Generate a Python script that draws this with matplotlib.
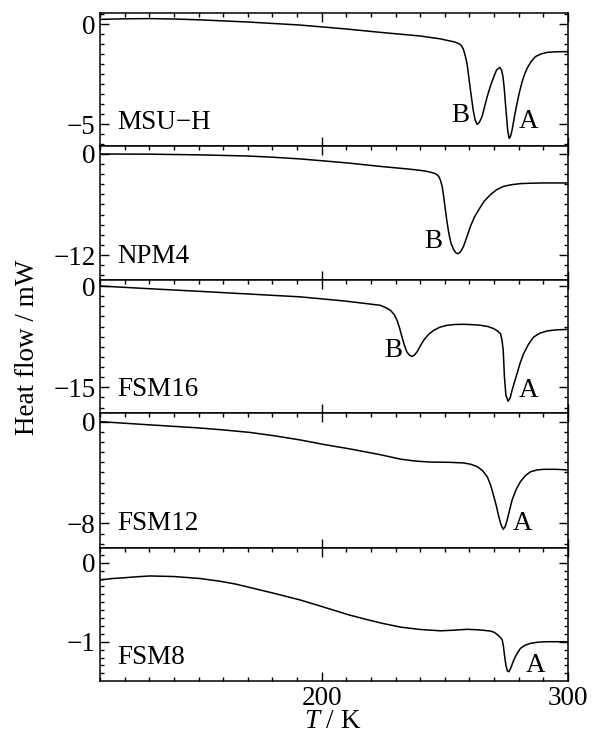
import numpy as np
import matplotlib
matplotlib.use("Agg")
import matplotlib.pyplot as plt
from matplotlib.ticker import MultipleLocator

plt.rcParams['font.family'] = ['Liberation Serif', 'DejaVu Serif']
plt.rcParams['mathtext.fontset'] = 'custom'
plt.rcParams['mathtext.it'] = 'Liberation Serif:italic'
plt.rcParams['mathtext.rm'] = 'Liberation Serif'

# ---------------- data ----------------
samples = ["MSU\u2212H", "NPM4", "FSM16", "FSM12", "FSM8"]

t_msuh = [110, 120, 130, 140, 150, 170, 191, 210, 224, 240, 248, 254, 255.5, 256.5,
          257.5, 258.3, 259, 260.4, 261.5, 262.3, 263.1, 264, 265.1, 266, 267.2,
          268.5, 269.9, 271, 272.3, 273, 273.6, 274.1, 274.6, 275.1, 275.5, 276.1,
          276.7, 277.3, 278.3, 279.3, 280.3, 281.4, 282.4, 283.4, 285, 286.8, 289,
          291.5, 295, 300]
hf_msuh = [0.23, 0.26, 0.27, 0.25, 0.21, 0.10, -0.05, -0.25, -0.42, -0.60, -0.74,
           -0.90, -0.97, -1.05, -1.25, -1.6, -1.97, -3.3, -4.3, -4.8, -5.02, -4.92,
           -4.63, -4.2, -3.63, -3.1, -2.63, -2.3, -2.17, -2.3, -2.63, -3.2, -3.97,
           -4.7, -5.3, -5.72, -5.6, -5.3, -4.6, -3.97, -3.4, -2.88, -2.5, -2.22,
           -1.88, -1.63, -1.5, -1.42, -1.39, -1.38]

t_npm4 = [110, 130, 150, 170, 180, 191, 200, 210, 224, 235, 240, 243, 245.5, 246.5,
          247.5, 248.2, 248.9, 249.5, 250.2, 250.9, 251.6, 252.5, 253.6, 254.5,
          255.4, 256.4, 257.6, 259, 260.4, 262, 263.8, 266, 268.5, 271, 273.9, 277,
          280.7, 285, 290.2, 300]
hf_npm4 = [0.0, -0.02, -0.10, -0.24, -0.38, -0.58, -0.80, -1.05, -1.48, -1.78,
           -1.94, -2.08, -2.26, -2.4, -2.65, -3.1, -3.84, -5.0, -6.6, -8.1, -9.4,
           -10.6, -11.37, -11.75, -11.85, -11.6, -10.97, -9.8, -8.6, -7.5, -6.6,
           -5.6, -4.83, -4.25, -3.84, -3.65, -3.52, -3.47, -3.44, -3.44]

t_fsm16 = [110, 130, 150, 170, 191, 200, 210, 218, 223.8, 226, 227.9, 229.4, 230.6,
           231.6, 232.6, 233.6, 234.6, 235.6, 236.7, 237.7, 238.7, 240, 241.4, 243.3,
           245.5, 248, 250.9, 254, 257.6, 261, 264.5, 267.5, 269.9, 271.5, 272.6,
           273.2, 273.7, 274.2, 274.8, 275.7, 276.5, 277.3, 278.3, 279.3, 280.6,
           282, 284, 286.1, 288.5, 291.5, 295, 300]
hf_fsm16 = [0.0, -0.40, -0.78, -1.18, -1.60, -1.90, -2.25, -2.6, -2.86, -3.2, -3.6,
            -4.2, -5.08, -6.2, -7.55, -8.8, -9.77, -10.25, -10.42, -10.2, -9.77,
            -8.9, -8.05, -7.2, -6.56, -6.1, -5.82, -5.7, -5.67, -5.72, -5.82, -6.0,
            -6.32, -6.7, -7.06, -8.0, -9.52, -13.5, -16.2, -17.07, -16.6, -15.44,
            -14.2, -12.98, -11.4, -10.0, -8.6, -7.55, -7.0, -6.66, -6.5, -6.42]

t_fsm12 = [110, 130, 150.6, 160, 171, 181, 191.3, 201, 211.6, 223.8, 232, 238, 244,
           252, 257.6, 260.5, 263.1, 265.3, 267.2, 268.6, 269.9, 271, 271.9, 272.8,
           273.7, 274.5, 275.3, 276.3, 277.3, 278.9, 280.7, 282.7, 284.8, 287.5,
           290.2, 295, 300]
hf_fsm12 = [0.0, -0.25, -0.50, -0.65, -0.85, -1.12, -1.44, -1.8, -2.15, -2.6, -2.95,
            -3.1, -3.18, -3.2, -3.25, -3.35, -3.54, -3.85, -4.33, -5.0, -5.9, -6.7,
            -7.48, -8.1, -8.47, -8.25, -7.74, -6.95, -6.17, -5.35, -4.72, -4.25,
            -3.94, -3.8, -3.75, -3.75, -3.8]

t_fsm8 = [110, 115, 120, 125, 130.3, 140, 150.6, 158.8, 165, 171, 181, 191.3, 198,
          204.8, 211, 218.4, 225, 232, 240, 248.2, 253, 259, 264, 268.5, 270, 271.2,
          272.4, 273.3, 273.8, 274.2, 274.8, 275.4, 276, 276.8, 278, 279.3, 280.7,
          282.5, 284.8, 288, 291.5, 300]
hf_fsm8 = [-0.219, -0.20, -0.19, -0.178, -0.168, -0.175, -0.20, -0.235, -0.27,
           -0.315, -0.39, -0.472, -0.535, -0.60, -0.66, -0.72, -0.77, -0.815, -0.845,
           -0.862, -0.855, -0.843, -0.85, -0.865, -0.88, -0.907, -0.94, -0.978,
           -1.06, -1.168, -1.30, -1.37, -1.38, -1.33, -1.23, -1.15, -1.084, -1.045,
           -1.02, -1.005, -1.0, -1.0]

series_t = [t_msuh, t_npm4, t_fsm16, t_fsm12, t_fsm8]
series_hf = [hf_msuh, hf_npm4, hf_fsm16, hf_fsm12, hf_fsm8]
y_major = [5, 12, 15, 8, 1]
y_limits = [(-6.1, 0.55), (-14.97, 0.95), (-18.81, 0.89), (-9.94, 0.68), (-1.497, 0.186)]
peak_labels = [[("B", 256.3, -4.88), ("A", 283.8, -5.22)],
               [("B", 245.5, -11.17)],
               [("B", 229.2, -10.51), ("A", 284.1, -16.44)],
               [("A", 281.7, -8.52)],
               [("A", 286.7, -1.38)]]

# ---------------- figure ----------------
W, H = 600, 735
fig = plt.figure(figsize=(W / 100, H / 100), dpi=100)
edges = [13, 146, 280, 413, 548, 681]
left_px, right_px = 100, 568
fs = 19.5

for i in range(5):
    top, bot = edges[i], edges[i + 1]
    ax = fig.add_axes([left_px / W, 1 - bot / H, (right_px - left_px) / W, (bot - top) / H])
    ax.plot(series_t[i], series_hf[i], color='black', lw=1.1)
    ax.set_xlim(110, 300)
    ax.set_ylim(*y_limits[i])
    ax.xaxis.set_major_locator(MultipleLocator(100))
    ax.xaxis.set_minor_locator(MultipleLocator(10))
    ax.yaxis.set_major_locator(MultipleLocator(y_major[i]))
    ax.yaxis.set_minor_locator(MultipleLocator(y_major[i] / 10))
    ax.tick_params(which='both', direction='in', top=True, right=True,
                   bottom=True, left=True, width=1.0, labelsize=fs)
    ax.tick_params(which='major', length=6.5)
    ax.tick_params(which='minor', length=3)
    ax.tick_params(axis='y', pad=3)
    ax.tick_params(axis='x', pad=3.5)
    if i < 4:
        ax.tick_params(axis='x', which='minor', bottom=False)
        ax.tick_params(axis='x', labelbottom=False)
    for s in ax.spines.values():
        s.set_linewidth(1.1)
    ax.text(0.036, 0.13, samples[i], transform=ax.transAxes, fontsize=fs,
            ha='left', va='baseline')
    for lab, tx, ty in peak_labels[i]:
        ax.text(tx, ty, lab, fontsize=fs, ha='center', va='baseline')

fig.text(28 / W, 1 - 347 / H, "Heat flow / mW", rotation=90, fontsize=fs,
         ha='center', va='center')
fig.text(333 / W, 1 - 722 / H, r"$\mathit{T}$ / K", fontsize=fs,
         ha='center', va='center')

fig.savefig("out.png", dpi=100)
